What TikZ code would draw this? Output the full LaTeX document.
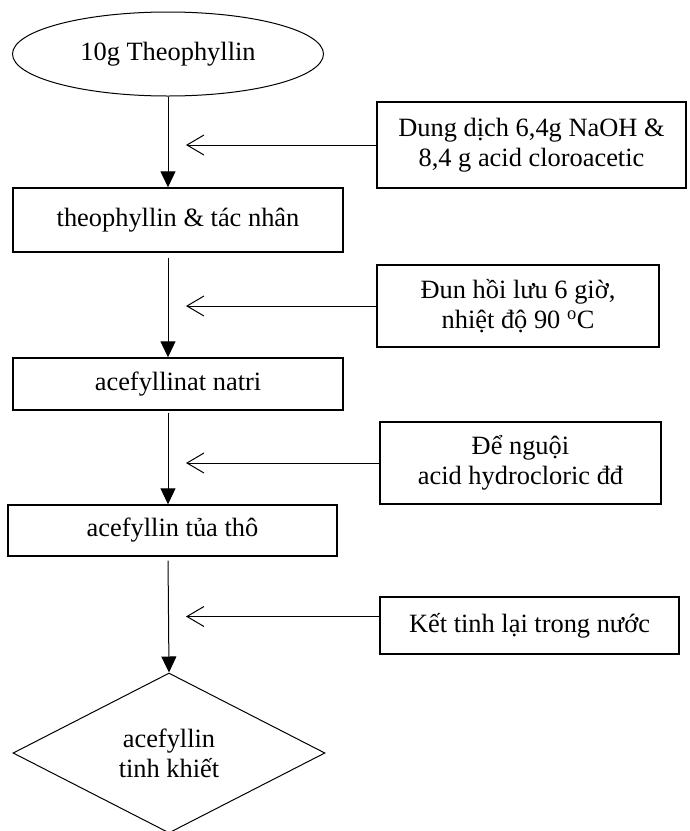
\documentclass[tikz,border=0pt]{standalone}
\usepackage{fontspec}
\setmainfont{Liberation Serif}
\usetikzlibrary{shapes.geometric,arrows.meta}
\begin{document}
\begin{tikzpicture}[x=1pt,y=-1pt,
  font=\fontsize{26.4}{30}\selectfont,
  stepbox/.style={draw, line width=1.4pt, rectangle, inner sep=0pt, align=center},
  flow/.style={line width=1pt, -{Triangle[length=16pt,width=15pt]}},
  feed/.style={line width=1pt, -{Straight Barb[length=17pt,width=20pt]}, shorten >=18pt}]
\useasboundingbox (0,0) rectangle (689,831);
\clip (0,0) rectangle (689,831);
\node[ellipse, draw, line width=1pt, inner sep=0pt, minimum width=311pt, minimum height=84pt] (tid0) at (168,54){10g Theophyllin};
\node[stepbox, minimum width=330pt, minimum height=64pt] (tid1) at (178,220){theophyllin \& tác nhân};
\node[stepbox, minimum width=330pt, minimum height=52pt] (tid2) at (178,384){acefyllinat natri};
\node[stepbox, minimum width=329pt, minimum height=51pt] (tid3) at (172.5,530.5){acefyllin tủa thô};
\node[diamond, draw, line width=1pt, inner sep=0pt, align=center, minimum width=312pt, minimum height=160pt] (tid4) at (169,753){acefyllin\\tinh khiết};
\node[stepbox, minimum width=309pt, minimum height=86pt] (agt0) at (531.5,145){Dung dịch 6,4g NaOH \&\\8,4 g acid cloroacetic};
\node[stepbox, minimum width=282pt, minimum height=82pt] (agt1) at (518,306){Đun hồi lưu 6 giờ,\\nhiệt độ 90 \textsuperscript{o}C};
\node[stepbox, minimum width=281pt, minimum height=82pt] (agt2) at (520.5,463){Để nguội\\acid hydrocloric đđ};
\node[stepbox, minimum width=299pt, minimum height=57pt] (agt3) at (529.5,625.5){Kết tinh lại trong nước};
\draw[flow] (tid0.south) -- (tid0.south |- tid1.north);
\draw[flow, shorten <=5pt] (tid0.south |- tid1.south) -- (tid0.south |- tid2.north);
\draw[flow, shorten <=2pt] (tid0.south |- tid2.south) -- (tid0.south |- tid3.north);
\draw[flow, shorten <=4pt] (tid0.south |- tid3.south) -- (tid4.north);
\draw[feed] (agt0.west) -- (agt0.west -| tid0.south);
\draw[feed] (agt1.west) -- (agt1.west -| tid0.south);
\draw[feed] (agt2.west) -- (agt2.west -| tid0.south);
\draw[feed] ([yshift=9pt]agt3.west) -- ([yshift=9pt]agt3.west -| tid0.south);
\end{tikzpicture}
\end{document}
